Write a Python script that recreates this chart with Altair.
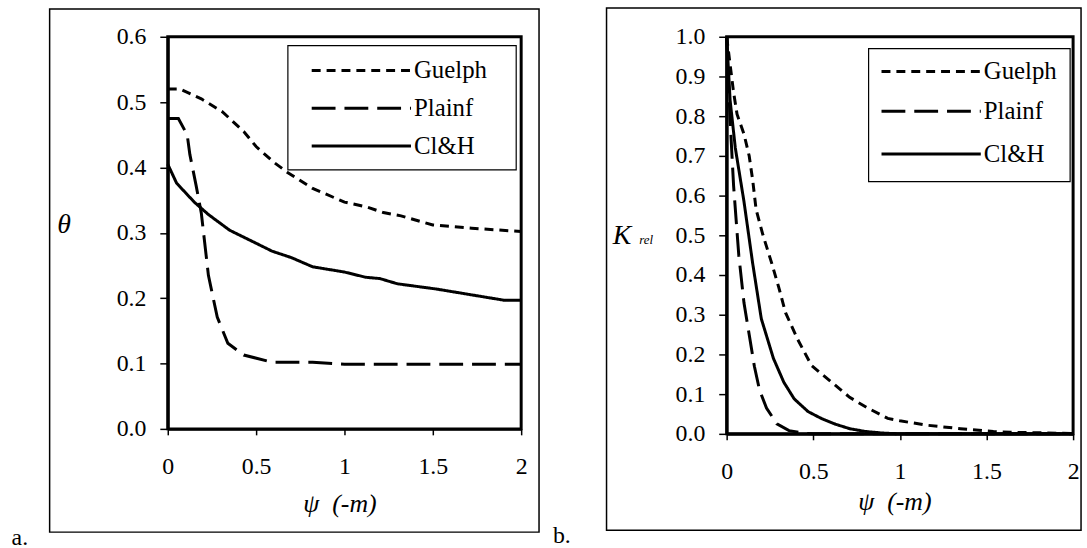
import altair as alt
import pandas as pd

SERIES = ["Guelph", "Plainf", "Cl&H"]
DASHES = [[9, 6], [24, 9], [1, 0]]

# ---- panel a: water content theta vs suction psi ----
a_guelph_x = [0, 0.07, 0.19, 0.31, 0.43, 0.5, 0.6, 0.68, 0.82, 1.0, 1.12, 1.22, 1.32, 1.5, 1.72, 2.0]
a_guelph_y = [0.52, 0.52, 0.505, 0.485, 0.455, 0.432, 0.408, 0.392, 0.368, 0.347, 0.34, 0.331, 0.326, 0.312, 0.307, 0.302]
a_plainf_x = [0, 0.06, 0.11, 0.125, 0.16, 0.19, 0.23, 0.28, 0.34, 0.43, 0.59, 0.82, 1.0, 2.0]
a_plainf_y = [0.475, 0.475, 0.45, 0.42, 0.373, 0.33, 0.235, 0.171, 0.131, 0.113, 0.102, 0.102, 0.099, 0.099]
a_clh_x = [0, 0.05, 0.15, 0.23, 0.35, 0.47, 0.59, 0.7, 0.82, 1.0, 1.12, 1.2, 1.3, 1.52, 1.9, 2.0]
a_clh_y = [0.405, 0.376, 0.347, 0.328, 0.304, 0.288, 0.272, 0.262, 0.248, 0.240, 0.232, 0.23, 0.222, 0.214, 0.197, 0.197]

# ---- panel b: relative conductivity vs suction psi ----
b_guelph_x = [0, 0.02, 0.04, 0.06, 0.10, 0.13, 0.15, 0.17, 0.21, 0.26, 0.30, 0.34, 0.41, 0.49, 0.55, 0.62,
              0.71, 0.81, 0.93, 1.0, 1.15, 1.35, 1.54, 1.64, 2.0]
b_guelph_y = [1.0, 0.93, 0.86, 0.805, 0.755, 0.70, 0.64, 0.565, 0.50, 0.43, 0.37, 0.305, 0.238, 0.172, 0.150, 0.125,
              0.092, 0.066, 0.039, 0.033, 0.022, 0.013, 0.006, 0.004, 0.001]
b_plainf_x = [0, 0.02, 0.04, 0.07, 0.10, 0.13, 0.16, 0.19, 0.23, 0.29, 0.36, 0.45, 0.5, 2.0]
b_plainf_y = [1.0, 0.79, 0.625, 0.45, 0.33, 0.25, 0.17, 0.11, 0.065, 0.025, 0.008, 0.001, 0.0, 0.0]
b_clh_x = [0, 0.02, 0.05, 0.10, 0.15, 0.20, 0.27, 0.33, 0.39, 0.47, 0.55, 0.63, 0.71, 0.80, 0.90, 1.0, 2.0]
b_clh_y = [1.0, 0.84, 0.72, 0.585, 0.43, 0.29, 0.19, 0.13, 0.088, 0.056, 0.038, 0.024, 0.013, 0.006, 0.002, 0.0, 0.0]

x_ticks = [0, 0.5, 1, 1.5, 2]
a_y_ticks = [0, 0.1, 0.2, 0.3, 0.4, 0.5, 0.6]
b_y_ticks = [0, 0.1, 0.2, 0.3, 0.4, 0.5, 0.6, 0.7, 0.8, 0.9, 1.0]

FONT = "Liberation Serif"
ONE = pd.DataFrame({"k": [0]})


def frame(xs, ys):
    parts = []
    for name, x, y in zip(SERIES, xs, ys):
        parts.append(pd.DataFrame({"psi": x, "val": y, "series": name}))
    return pd.concat(parts, ignore_index=True)


def box(x1, x2, y1, y2, stroke=None, width=1.0, fill=None):
    kw = dict(strokeWidth=width)
    if stroke:
        kw["stroke"] = stroke
    else:
        kw["strokeOpacity"] = 0
    if fill:
        kw["fill"] = fill
        kw["fillOpacity"] = 1
    else:
        kw["fillOpacity"] = 0
    return alt.Chart(ONE).mark_rect(**kw).encode(
        x=alt.value(x1), x2=alt.value(x2), y=alt.value(y1), y2=alt.value(y2))


def label(txt, x, y, size=24, style="normal", align="center"):
    return alt.Chart(ONE).mark_text(
        text=txt, font=FONT, fontSize=size, fontStyle=style, color="black",
        align=align, baseline="middle").encode(x=alt.value(x), y=alt.value(y))


def panel(df, w, h, ydom, yticks, ytitle, ytitle_xy, xtitle_xy, extent, outer, tag, tag_xy,
          leg_box, leg_rows, sym_x, lab_x):
    lines = alt.Chart(df).mark_line(strokeWidth=3, color="black", strokeCap="butt").encode(
        x=alt.X("psi:Q", scale=alt.Scale(domain=[0, 2], nice=False),
                axis=alt.Axis(values=x_ticks, format="~g", labelFlush=False, labelOverlap=False,
                              labelFont=FONT, labelFontSize=24, labelColor="black", labelPadding=20,
                              tickSize=6, tickWidth=1.5, tickColor="black",
                              domainColor="black", domainWidth=3, grid=False,
                              title="\u03c8\u00a0\u00a0(-m)", titleFont=FONT, titleFontSize=26,
                              titleFontStyle="italic", titleFontWeight="normal", titleColor="black",
                              titleX=xtitle_xy[0], titleY=xtitle_xy[1], titleAlign="center",
                              titleBaseline="middle")),
        y=alt.Y("val:Q", scale=alt.Scale(domain=ydom, nice=False),
                axis=alt.Axis(values=yticks, format=".1f", labelFont=FONT, labelFontSize=24,
                              labelColor="black", labelPadding=14, labelFlush=False, labelOverlap=False,
                              tickSize=8, tickWidth=1.5, tickColor="black",
                              domainColor="black", domainWidth=3, grid=False,
                              title=ytitle, titleFont=FONT, titleFontSize=28, titleFontStyle="italic",
                              titleFontWeight="normal", titleColor="black", titleAngle=0,
                              titleX=ytitle_xy[0], titleY=ytitle_xy[1], titleAlign="center",
                              titleBaseline="middle")),
        strokeDash=alt.StrokeDash("series:N", scale=alt.Scale(domain=SERIES, range=DASHES), legend=None),
        detail="series:N",
    )
    layers = [box(*extent), box(*outer, stroke="black", width=1.5), lines,
              box(*leg_box, stroke="black", width=1.2, fill="white")]
    for name, dash, ry in zip(SERIES, DASHES, leg_rows):
        layers.append(alt.Chart(ONE).mark_rule(color="black", strokeWidth=3, strokeDash=dash,
                                               strokeCap="butt").encode(
            x=alt.value(sym_x[0]), x2=alt.value(sym_x[1]), y=alt.value(ry)))
        layers.append(label(name, lab_x, ry, size=25, align="left"))
    layers.append(label(tag, tag_xy[0], tag_xy[1], size=24))
    return alt.layer(*layers).properties(width=w, height=h)


left = panel(frame([a_guelph_x, a_plainf_x, a_clh_x], [a_guelph_y, a_plainf_y, a_clh_y]),
             356, 395, [0, 0.6], a_y_ticks, "\u03b8", (-105, 189), (173, 75),
             (-167, 378, -33, 515), (-119, 374, -28, 499), "a.", (-149, 505),
             (121, 351, 9, 134), [34, 72, 110], (145, 245), 248)

right = panel(frame([b_guelph_x, b_plainf_x, b_clh_x], [b_guelph_y, b_plainf_y, b_clh_y]),
              349, 400, [0, 1], b_y_ticks, "K", (-106, 200), (169, 68),
              (-181, 361, -32, 516), (-121, 357, -29, 497), "b.", (-166, 503),
              (143, 346, 12, 146), [35, 75, 118], (156, 256), 259)
right = alt.layer(right, label("rel", -81, 205, size=13, style="italic"))

chart = alt.hconcat(left, right, spacing=0).properties(
    padding=0, background="white"
).configure_view(stroke="black", strokeWidth=3)

chart.save("out.html", embed_options={"renderer": "svg", "actions": False})
